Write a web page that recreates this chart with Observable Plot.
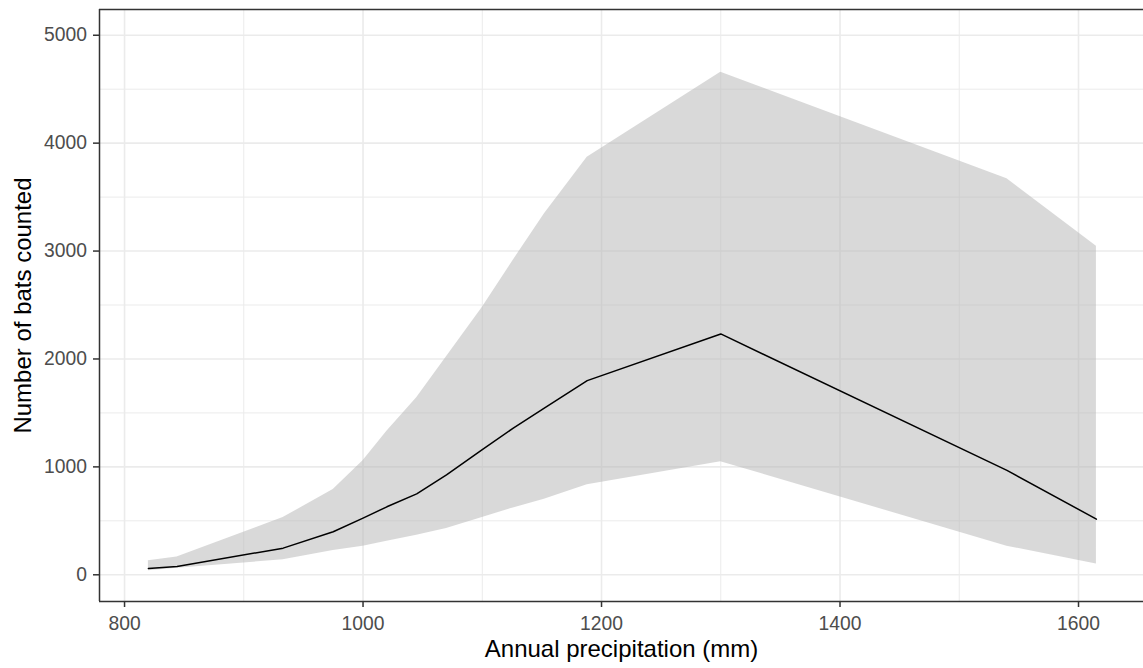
<!DOCTYPE html>
<html>
<head>
<meta charset="utf-8">
<script src="https://cdn.jsdelivr.net/npm/d3@7"></script>
<script src="https://cdn.jsdelivr.net/npm/@observablehq/plot@0.6"></script>
<style>
  html, body { margin: 0; padding: 0; background: #fff; }
</style>
</head>
<body>
<div id="chart"></div>
<script>
// Annual precipitation (mm) at each site
const precip = [820, 844, 933, 975, 1000, 1020, 1045, 1070, 1100, 1126, 1152, 1188, 1300, 1540, 1615];
// Fitted number of bats counted
const fitted = [58, 77, 247, 399, 525, 630, 750, 925, 1160, 1360, 1545, 1799, 2232, 967, 516];
// Confidence band bounds
const upper = [130, 165, 530, 790, 1057, 1330, 1640, 2020, 2478, 2915, 3344, 3869, 4657, 3669, 3045];
const lower = [37, 60, 139, 225, 265, 310, 366, 430, 531, 620, 700, 834, 1048, 265, 99];

// Axis breaks
const xTicks = [800, 1000, 1200, 1400, 1600];
const xMinor = [900, 1100, 1300, 1500];
const yTicks = [0, 1000, 2000, 3000, 4000, 5000];
const yMinor = [500, 1500, 2500, 3500, 4500];

const xDomain = [779, 1654.5];
const yDomain = [-247.5, 5238.5];

const rows = precip.map((p, i) => ({precip: p, fit: fitted[i], lo: lower[i], hi: upper[i]}));

const grid = "#ebebeb";
const border = "#333333";

const chart = Plot.plot({
  width: 1143,
  height: 668,
  marginLeft: 99,
  marginRight: 0,
  marginTop: 9,
  marginBottom: 67,
  style: {fontFamily: "'Liberation Sans', Arial, sans-serif", background: "#fff"},
  x: {domain: xDomain},
  y: {domain: yDomain},
  marks: [
    Plot.gridX(xMinor, {stroke: grid, strokeOpacity: 1, strokeWidth: 1}),
    Plot.gridY(yMinor, {stroke: grid, strokeOpacity: 1, strokeWidth: 1}),
    Plot.gridX(xTicks, {stroke: grid, strokeOpacity: 1, strokeWidth: 1.6}),
    Plot.gridY(yTicks, {stroke: grid, strokeOpacity: 1, strokeWidth: 1.6}),
    Plot.areaY(rows, {x: "precip", y1: "lo", y2: "hi", fill: "#b3b3b3", fillOpacity: 0.5}),
    Plot.line(rows, {x: "precip", y: "fit", stroke: "black", strokeWidth: 1.5}),
    // panel border (left, bottom, top)
    Plot.ruleX([xDomain[0]], {stroke: border, strokeWidth: 1.5}),
    Plot.ruleY(yDomain, {stroke: border, strokeWidth: 1.5}),
    Plot.axisX({ticks: xTicks, tickSize: 6, tickPadding: 9, stroke: border, strokeWidth: 1.5,
                fill: "#4d4d4d", fontSize: 19.3, label: null, tickFormat: d => String(d)}),
    Plot.axisY({ticks: yTicks, tickSize: 6, tickPadding: 6.5, stroke: border, strokeWidth: 1.5,
                fill: "#4d4d4d", fontSize: 19.3, label: null, tickFormat: d => String(d)}),
    Plot.text(["Annual precipitation (mm)"], {frameAnchor: "bottom", dy: 48.3, fontSize: 24,
                fill: "black", lineAnchor: "middle", textAnchor: "middle"}),
    Plot.text(["Number of bats counted"], {frameAnchor: "left", dx: -75.7, rotate: -90, fontSize: 24,
                fill: "black", lineAnchor: "middle", textAnchor: "middle"})
  ]
});

document.getElementById("chart").appendChild(chart);
</script>
</body>
</html>
